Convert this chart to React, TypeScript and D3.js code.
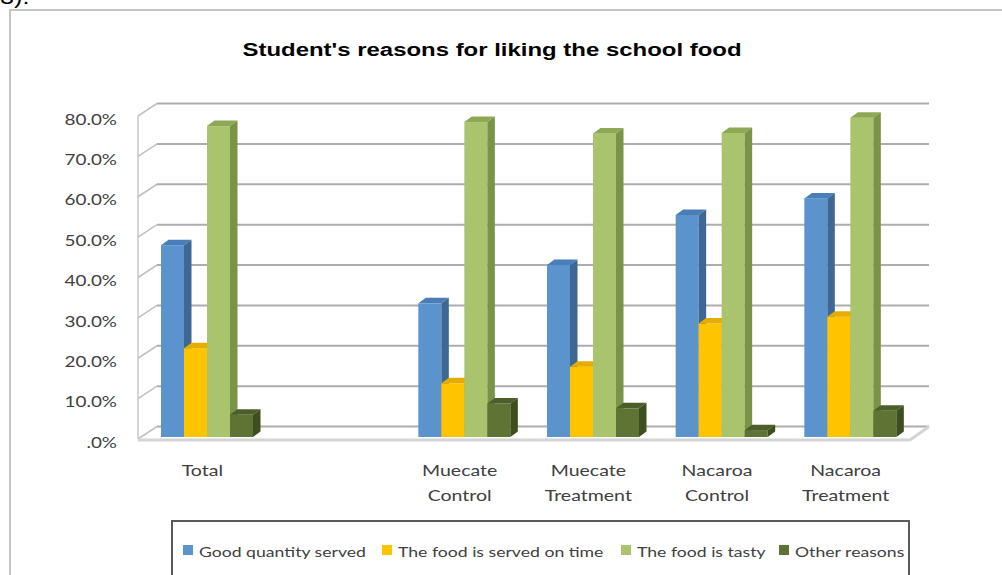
import React from "react";
import * as d3 from "d3";

const categories = ["Total", "", "Muecate Control", "Muecate Treatment", "Nacaroa Control", "Nacaroa Treatment"];
const seriesNames = ["Good quantity served", "The food is served on time", "The food is tasty", "Other reasons"];
const goodQuantity = [47.5, null, 33.1, 42.6, 55.0, 59.1];
const servedOnTime = [22.0, null, 13.3, 17.4, 28.1, 29.8];
const foodTasty = [77.0, null, 78.0, 75.2, 75.3, 79.1];
const otherReasons = [5.5, null, 8.3, 7.1, 1.7, 6.5];
const yTicks = [0, 10, 20, 30, 40, 50, 60, 70, 80];
const yTickLabels = [".0%", "10.0%", "20.0%", "30.0%", "40.0%", "50.0%", "60.0%", "70.0%", "80.0%"];

const series = [goodQuantity, servedOnTime, foodTasty, otherReasons];
const palette = [
  { front: "#5B93CD", top: "#4A7EB8", side: "#3E6894" },
  { front: "#FFC400", top: "#E6AC00", side: "#C99A00" },
  { front: "#A9C46C", top: "#8DA857", side: "#7A9447" },
  { front: "#5F7434", top: "#4C5E29", side: "#3E4E1F" },
];

const SX = 1.26;

function T({ x, y, anchor = "start", size, weight = 400, fill = "#404040", family = "Lato", children, baseline = "alphabetic" }: any) {
  return (
    <text
      transform={`translate(${x},${y}) scale(${SX},1)`}
      textAnchor={anchor}
      fontSize={size}
      fontWeight={weight}
      fill={fill}
      fontFamily={family}
      dominantBaseline={baseline}
    >
      {children}
    </text>
  );
}

export default function App() {
  const W = 1002, H = 575;
  const x = d3.scaleBand<number>().domain(categories.map((_, i) => i)).range([138, 910]);
  const h = d3.scaleLinear().domain([0, 80]).range([0, 323]);
  const frontY0 = 439, depthX = 19, depthY = -12.5;
  const frontY = (v: number) => frontY0 - h(v);
  const backY = (v: number) => frontY0 + depthY - h(v);
  const backX0 = 138 + depthX, backX1 = 910 + depthX;
  const barBase = 437, barW = 23, bdx = 7.5, bdy = -5.5, clusterOffset = 23;

  const legendX = [183, 382, 621, 779];

  const bars: any[] = [];
  categories.forEach((c, i) => {
    series.forEach((s, si) => {
      const v = s[i];
      if (v == null) return;
      const x0 = (x(i) as number) + clusterOffset + si * barW;
      const yt = barBase - h(v);
      const p = palette[si];
      bars.push(
        <g key={`${i}-${si}`}>
          <rect x={x0} y={yt} width={barW} height={barBase - yt} fill={p.front} />
          <polygon
            points={`${x0},${yt} ${x0 + bdx},${yt + bdy} ${x0 + barW + bdx},${yt + bdy} ${x0 + barW},${yt}`}
            fill={p.top}
          />
          <polygon
            points={`${x0 + barW},${yt} ${x0 + barW + bdx},${yt + bdy} ${x0 + barW + bdx},${barBase + bdy} ${x0 + barW},${barBase}`}
            fill={p.side}
          />
        </g>
      );
    });
  });

  return (
    <svg width={W} height={H} style={{ position: "absolute", left: 0, top: 0, background: "#fff" }}>
      <rect x={0} y={0} width={W} height={H} fill="#fff" />
      <T x={0} y={4} size={20} fill="#000" family="Liberation Sans">3).</T>
      <rect x={10} y={10} width={1000} height={600} fill="none" stroke="#C4C4C4" strokeWidth={2} />
      <T x={492} y={56} anchor="middle" size={19} weight={700} fill="#000" family="Liberation Sans">
        Student's reasons for liking the school food
      </T>
      {/* left wall */}
      <line x1={138} y1={frontY(80)} x2={138} y2={frontY(0)} stroke="#C8C8C8" strokeWidth={1.5} />
      {yTicks.map((v) => (
        <g key={v}>
          <line x1={138} y1={frontY(v)} x2={backX0} y2={backY(v)} stroke="#C0C0C0" strokeWidth={1.5} />
          <line x1={backX0} y1={backY(v)} x2={backX1} y2={backY(v)} stroke="#ADADAD" strokeWidth={2} />
        </g>
      ))}
      {/* floor */}
      <line x1={138} y1={frontY0 + 1} x2={910} y2={frontY0 + 1} stroke="#D4D4D4" strokeWidth={3} />
      <line x1={910} y1={frontY0 + 1} x2={backX1} y2={backY(0)} stroke="#D4D4D4" strokeWidth={3} />
      {yTicks.map((v, i) => (
        <T key={v} x={117} y={frontY(v) + 3} anchor="end" size={15} baseline="central">
          {yTickLabels[i]}
        </T>
      ))}
      {bars}
      {categories.map((c, i) => {
        const cx = (x(i) as number) + x.bandwidth() / 2;
        const lines = c === "Total" ? [c] : c.split(" ").filter(Boolean);
        return lines.map((ln, li) => (
          <T key={`${i}-${li}`} x={cx} y={470 + li * 25} anchor="middle" size={15.5} baseline="central">
            {ln}
          </T>
        ));
      })}
      <rect x={172} y={521} width={737} height={80} fill="#fff" stroke="#595959" strokeWidth={2} />
      {seriesNames.map((n, i) => (
        <g key={n}>
          <rect x={legendX[i]} y={545} width={10} height={10} fill={palette[i].front} />
          <T x={legendX[i] + 16} y={551} size={14} baseline="central">{n}</T>
        </g>
      ))}
    </svg>
  );
}
